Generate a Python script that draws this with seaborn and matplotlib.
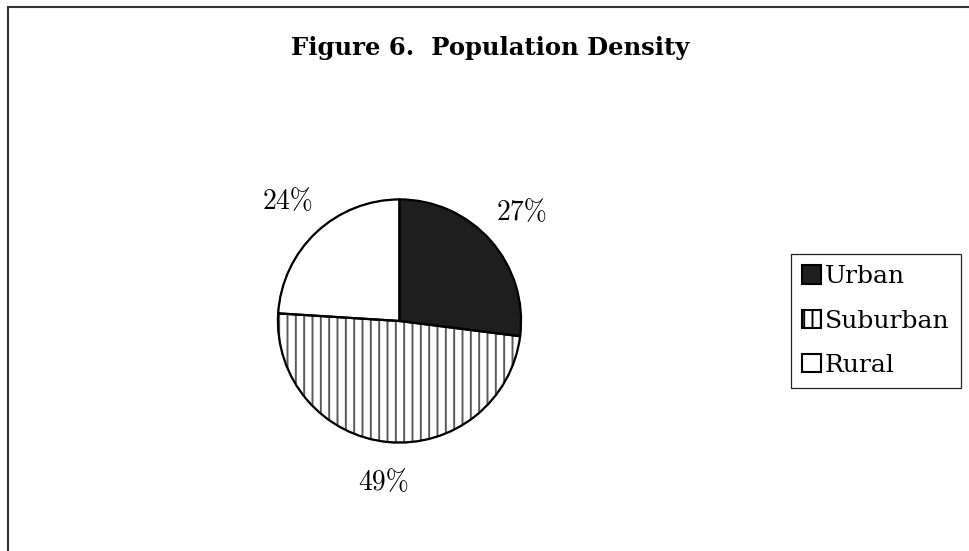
import matplotlib
matplotlib.use("Agg")
import matplotlib.pyplot as plt
from matplotlib.patches import Rectangle
import seaborn as sns

# Population density shares
categories = ["Urban", "Suburban", "Rural"]
shares = [27, 49, 24]
fills = ["#1e1e1e", "white", "white"]
hatches = [None, "||", None]

sns.set_theme(style="white")
plt.rcParams["font.family"] = ["DejaVu Serif"]
plt.rcParams["text.color"] = "black"
plt.rcParams["hatch.linewidth"] = 1.4

W, H = 970, 551
fig = plt.figure(figsize=(W / 100, H / 100), dpi=100)
fig.patch.set_facecolor("white")

# square axes so that the unit circle spans the pie's pixel radius
cx, cy, R = 399.5, 321, 124
ax = fig.add_axes([(cx - R) / W, (H - cy - R) / H, 2 * R / W, 2 * R / H])

wedges, texts, autotexts = ax.pie(
    shares,
    colors=fills,
    startangle=90,
    counterclock=False,
    autopct="%1.0f%%",
    pctdistance=1.34,
    radius=1.0,
    wedgeprops=dict(edgecolor="#5a5a5a", linewidth=1.0),
    textprops=dict(fontsize=20, family="cmr10", color="black"),
)
for w, h in zip(wedges, hatches):
    if h:
        w.set_hatch(h)

# crisp black outlines drawn over the hatching
outline, _ = ax.pie(
    shares,
    startangle=90,
    counterclock=False,
    radius=1.0,
    wedgeprops=dict(facecolor="none", edgecolor="black", linewidth=1.6),
)
ax.set_xlim(-1.02, 1.02)
ax.set_ylim(-1.02, 1.02)
ax.axis("off")

leg = fig.legend(
    wedges,
    categories,
    loc="upper left",
    bbox_to_anchor=(791 / W, 1 - 254 / H),
    borderaxespad=0,
    frameon=True,
    fancybox=False,
    framealpha=1,
    edgecolor="#222222",
    fontsize=18,
    handlelength=0.75,
    handleheight=0.75,
    handletextpad=0.15,
    labelspacing=0.85,
    borderpad=0.45,
    labelcolor="black",
)
leg.get_frame().set_linewidth(0.9)
for hdl in leg.legend_handles:
    hdl.set_edgecolor("black")
    hdl.set_linewidth(1.5)

fig.text(490 / W, 1 - 48 / H, "Figure 6.  Population Density",
         ha="center", va="center", fontsize=17.5, fontweight="bold",
         family="DejaVu Serif", color="black")

# chart border (top and left edges visible)
fig.add_artist(Rectangle((8 / W, -0.2), 1.2, 1.2 - 7 / H,
                         transform=fig.transFigure, fill=False,
                         edgecolor="#333333", linewidth=1.5))

fig.savefig("out.png", dpi=100)
